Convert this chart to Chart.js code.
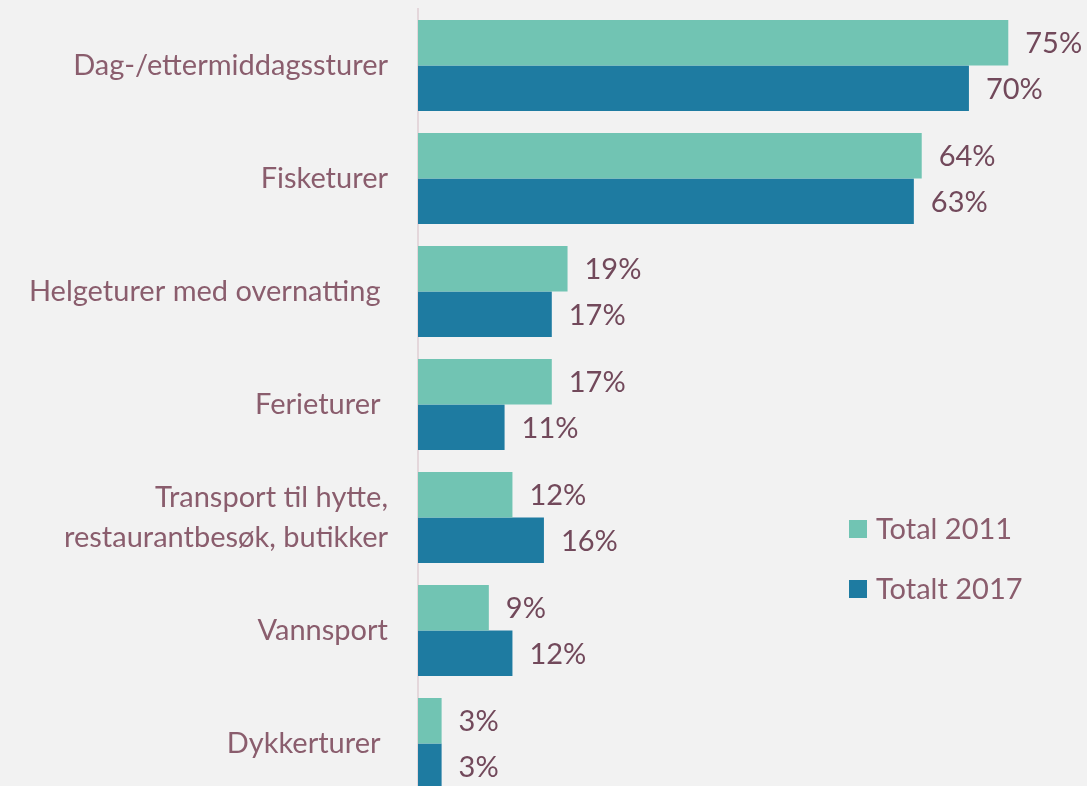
<!DOCTYPE html>
<html>
<head>
<meta charset="utf-8">
<script src="https://cdn.jsdelivr.net/npm/chart.js@4/dist/chart.umd.min.js"></script>
<style>
  html, body { margin: 0; padding: 0; background: #f2f2f2; overflow: hidden; }
  #wrap { position: relative; width: 1087px; height: 800px; }
</style>
</head>
<body>
<div id="wrap"><canvas id="c"></canvas></div>
<script>
const categories = [
  "Dag-/ettermiddagssturer",
  "Fisketurer",
  "Helgeturer med overnatting ",
  "Ferieturer ",
  ["Transport til hytte,", "restaurantbesøk, butikker"],
  "Vannsport",
  "Dykkerturer "
];
const seriesNames = ["Total 2011", "Totalt 2017"];
const total2011 = [75, 64, 19, 17, 12, 9, 3];
const total2017 = [70, 63, 17, 11, 16, 12, 3];
const seriesColors = ["#71c4b3", "#1e7ba1"];

const FONT = "Lato, 'Open Sans', sans-serif";
const FONT_SIZE = 29;
const labelColor = "#8a5d6d";
const valueColor = "#72495b";

const valueLabels = {
  id: 'valueLabels',
  afterDatasetsDraw(chart) {
    const ctx = chart.ctx;
    ctx.save();
    ctx.font = FONT_SIZE + "px " + FONT;
    ctx.fillStyle = valueColor;
    ctx.textAlign = "left";
    ctx.textBaseline = "middle";
    chart.data.datasets.forEach((ds, i) => {
      const meta = chart.getDatasetMeta(i);
      meta.data.forEach((bar, j) => {
        ctx.fillText(ds.data[j] + "%", bar.x + 17, bar.y + 1);
      });
    });
    ctx.restore();
  }
};

const customLegend = {
  id: 'customLegend',
  afterDraw(chart) {
    const ctx = chart.ctx;
    ctx.save();
    ctx.font = FONT_SIZE + "px " + FONT;
    ctx.textBaseline = "middle";
    ctx.textAlign = "left";
    chart.data.datasets.forEach((ds, i) => {
      const y = 529 + i * 60;
      ctx.fillStyle = ds.backgroundColor;
      ctx.fillRect(849, y - 9, 18, 18);
      ctx.fillStyle = labelColor;
      ctx.fillText(ds.label, 876, y + 1);
    });
    ctx.restore();
  }
};

new Chart(document.getElementById('c'), {
  type: 'bar',
  data: {
    labels: categories,
    datasets: [
      { label: seriesNames[0], data: total2011, backgroundColor: seriesColors[0] },
      { label: seriesNames[1], data: total2017, backgroundColor: seriesColors[1] }
    ]
  },
  options: {
    indexAxis: 'y',
    responsive: true,
    maintainAspectRatio: false,
    animation: false,
    layout: { padding: { top: 9, right: 0, bottom: 0, left: 0 } },
    datasets: { bar: { categoryPercentage: 0.805, barPercentage: 1.0 } },
    plugins: { legend: { display: false }, tooltip: { enabled: false } },
    scales: {
      x: {
        display: false,
        min: 0,
        max: 85
      },
      y: {
        afterFit(axis) {
          axis.width = 418;
          axis.paddingTop = 0;
          axis.paddingBottom = 0;
        },
        grid: { display: false, drawTicks: false },
        border: { display: true, color: "#e4d7db", width: 2 },
        ticks: {
          padding: 30,
          color: labelColor,
          font: { family: FONT, size: FONT_SIZE, lineHeight: 1.4 }
        }
      }
    }
  },
  plugins: [valueLabels, customLegend]
});
</script>
</body>
</html>
